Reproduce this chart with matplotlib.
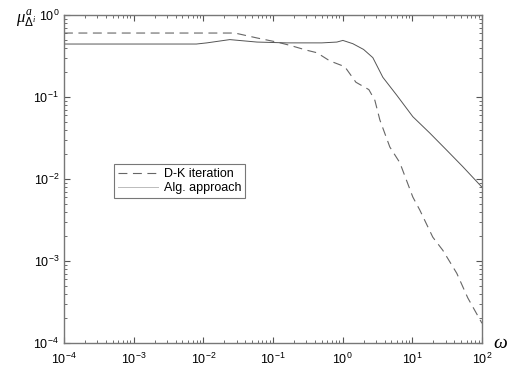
import numpy as np
import matplotlib
matplotlib.use("Agg")
import matplotlib.pyplot as plt
from matplotlib.ticker import LogLocator, NullFormatter

plt.rcParams['font.family'] = ['Liberation Sans', 'DejaVu Sans']
plt.rcParams['mathtext.fontset'] = 'custom'
plt.rcParams['mathtext.it'] = 'Liberation Serif:italic'
plt.rcParams['mathtext.rm'] = 'Liberation Sans'

# D-K iteration (log10 omega, log10 mu)
dk_logw = [-4.0, -1.547, -1.23, -0.944, -0.757, -0.514, -0.37, -0.184, 0.03, 0.19, 0.376,
           0.462, 0.534, 0.677, 0.82, 1.007, 1.108, 1.294, 1.438, 1.638, 1.796, 2.0]
dk_logmu = [-0.22, -0.22, -0.28, -0.33, -0.37, -0.43, -0.46, -0.56, -0.63, -0.82, -0.91,
            -1.04, -1.28, -1.61, -1.80, -2.22, -2.38, -2.71, -2.87, -3.15, -3.45, -3.76]

# Algebraic approach
alg_logw = [-4.0, -2.1, -1.95, -1.62, -1.23, -0.8, -0.3, -0.083, 0.003, 0.146, 0.30, 0.433,
            0.577, 0.778, 1.007, 1.251, 1.495, 1.725, 2.0]
alg_logmu = [-0.354, -0.354, -0.34, -0.30, -0.33, -0.34, -0.34, -0.33, -0.31, -0.35, -0.42, -0.52,
             -0.76, -0.98, -1.24, -1.44, -1.65, -1.85, -2.10]

fig = plt.figure(figsize=(5.15, 3.72), dpi=100)
ax = fig.add_axes([64/515, 1 - 343/372, 418/515, 328/372])

ax.loglog(10**np.array(dk_logw), 10**np.array(dk_logmu), color='#666666', lw=0.8,
          dashes=(8, 5), label='D-K iteration')
ax.loglog(10**np.array(alg_logw), 10**np.array(alg_logmu), color='#555555', lw=0.7,
          label='Alg. approach')

ax.set_xlim(1e-4, 1e2)
ax.set_ylim(1e-4, 1e0)
ax.xaxis.set_major_locator(LogLocator(base=10, numticks=10))
ax.yaxis.set_major_locator(LogLocator(base=10, numticks=10))
ax.xaxis.set_minor_locator(LogLocator(base=10, subs=np.arange(2, 10), numticks=20))
ax.yaxis.set_minor_locator(LogLocator(base=10, subs=np.arange(2, 10), numticks=20))
ax.xaxis.set_minor_formatter(NullFormatter())
ax.yaxis.set_minor_formatter(NullFormatter())
ax.tick_params(which='both', direction='in', top=True, right=True, labelsize=9, color='#555555')
ax.tick_params(which='major', length=4)
ax.tick_params(which='minor', length=2)
ax.tick_params(axis='x', pad=6)
for s in ax.spines.values():
    s.set_color('#777777')
    s.set_linewidth(1.0)

leg = ax.legend(loc='upper left', bbox_to_anchor=(0.12, 0.545), fontsize=9,
                frameon=True, fancybox=False, edgecolor='#555555', handlelength=3.2,
                borderpad=0.3, labelspacing=0.2, handletextpad=0.5, borderaxespad=0)
leg.get_frame().set_linewidth(0.8)
leg.get_lines()[1].set_color('#bbbbbb')

fig.text(16/515, 1 - 18/372, r'$\mu^{a}_{\Delta^{i}}$', fontsize=12, ha='left', va='center')
fig.text(500/515, 1 - 344/372, r'$\omega$', fontsize=14, ha='center', va='center')

fig.savefig('out.png', dpi=100)
